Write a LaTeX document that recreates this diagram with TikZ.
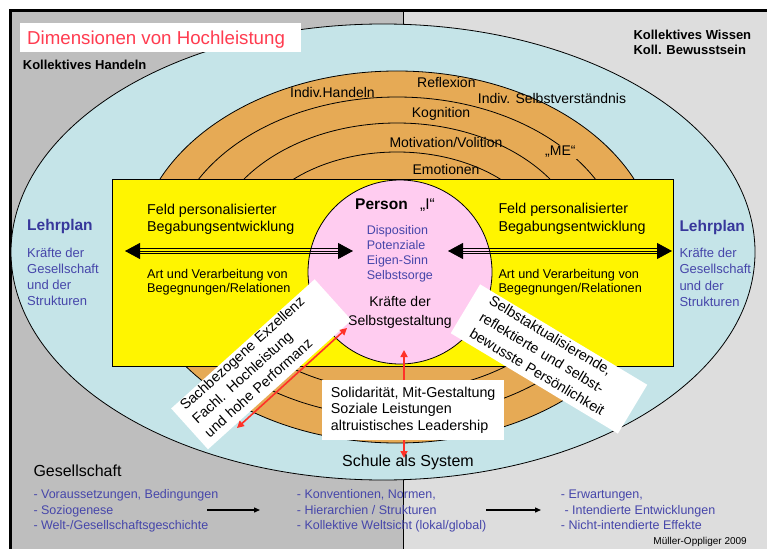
\documentclass[tikz,border=0pt]{standalone}
\usepackage{fontspec}
\setmainfont{Liberation Sans}
\usetikzlibrary{arrows.meta}

\definecolor{grayL}{RGB}{190,190,190}
\definecolor{grayR}{RGB}{221,221,221}
\definecolor{skyfill}{RGB}{197,228,232}
\definecolor{ochre}{RGB}{230,170,85}
\definecolor{fieldyellow}{RGB}{255,245,0}
\definecolor{personpink}{RGB}{255,204,240}
\definecolor{inkblue}{RGB}{70,70,170}
\definecolor{deepblue}{RGB}{55,55,155}
\definecolor{titlered}{RGB}{255,60,80}
\definecolor{arrowred}{RGB}{255,50,40}

\newcommand\setfs[2]{\fontsize{#1}{#2}\selectfont}

\begin{document}
\begin{tikzpicture}[x=1pt,y=-1pt,
  txt/.style={inner sep=0pt, anchor=base west},
  ctxt/.style={inner sep=0pt, anchor=base},
  blu/.style={txt, text=inkblue},
  ringline/.style={line width=0.8pt},
  shaft/.style={line width=0.8pt},
  bigtips/.style={shaft, {Triangle[length=15pt,width=16pt]}-{Triangle[length=15pt,width=16pt]}},
  redarrow/.style={draw=arrowred, line width=1.6pt,
    {Triangle[length=7pt,width=7pt]}-{Triangle[length=7pt,width=7pt]}},
  smallarrow/.style={line width=1.3pt, -{Triangle[length=6pt,width=5pt]}},
  ringlabel/.style={txt, font=\setfs{14}{16}},
  fieldhead/.style={txt, font=\setfs{14.3}{17}},
  fieldsub/.style={txt, font=\setfs{12.7}{15}},
  planhead/.style={txt, text=deepblue, font=\bfseries\setfs{15.5}{18}},
  plantext/.style={blu, font=\setfs{13}{16}},
  listtext/.style={blu, font=\setfs{12.5}{15}},
  rotbox/.style={fill=white, inner ysep=0pt, align=left, font=\setfs{14.3}{18.3}},
]
\useasboundingbox (0,0) rectangle (767,548);

% two background halves and the frame
\fill[grayL] (10.5,10.5) rectangle (403,560);
\fill[grayR] (403,10.5) rectangle (790,560);
\draw[line width=0.8pt] (403,10.5) -- (403,560);
\draw[line width=3pt] (790,10.5) -- (10.5,10.5) -- (10.5,560);

% school system ellipse
\filldraw[fill=skyfill, line width=0.8pt] (383,252) ellipse [x radius=372pt, y radius=228pt];

% individual rings
\filldraw[fill=ochre, line width=0.8pt] (397,257) ellipse [x radius=261pt, y radius=186pt];
\draw[ringline] (397,257) ellipse [x radius=227pt, y radius=160pt];
\draw[ringline] (397,257) ellipse [x radius=188pt, y radius=134pt];
\draw[ringline] (397,257) ellipse [x radius=154pt, y radius=105pt];

\node[ringlabel] (reflexion) at (417,87.3) {Reflexion};
\node[ringlabel] (handeln) at (290,97.5) {Indiv.Handeln};
\node[ringlabel] (selbstv) at (477.7,104) {Indiv. Selbstverständnis};
\node[ringlabel] (kognition) at (411.7,117.3) {Kognition};
\node[ringlabel] (motivation) at (389.3,147.3) {Motivation/Volition};
\node[ringlabel, fill=ochre, inner sep=1.5pt] (me) at (543.5,156) {„ME“};
\node[ringlabel] (emotionen) at (412.3,175) {Emotionen};

% field of personalised development
\node[draw, fill=fieldyellow, line width=0.8pt, minimum width=561pt, minimum height=187pt,
      inner sep=0pt] (field) at (392.5,272.5) {};
\node[circle, draw, fill=personpink, line width=0.8pt, minimum size=184pt, inner sep=0pt]
      (person) at (400,272) {};

\node[fieldhead] (feldL1) at (147,214) {Feld personalisierter};
\node[fieldhead] (feldL2) at (147,231.5) {Begabungsentwicklung};
\node[fieldsub] (artL1) at (147,278.3) {Art und Verarbeitung von};
\node[fieldsub] (artL2) at (147,292.7) {Begegnungen/Relationen};
\node[fieldhead] (feldR1) at (498.3,213.5) {Feld personalisierter};
\node[fieldhead] (feldR2) at (498.3,231) {Begabungsentwicklung};
\node[fieldsub] (artR1) at (498.3,278.3) {Art und Verarbeitung von};
\node[fieldsub] (artR2) at (498.3,292.7) {Begegnungen/Relationen};

% double arrows across the field
\coordinate (lfarL) at (125,251);
\coordinate (lfarR) at (353,251);
\coordinate (rtarL) at (448,251);
\coordinate (rtarR) at (672,251);
\foreach \s in {-2.3,2.3}{
  \draw[shaft, shorten <=12pt, shorten >=12pt] ([yshift=\s pt]lfarL) -- ([yshift=\s pt]lfarR);
  \draw[shaft, shorten <=12pt, shorten >=12pt] ([yshift=\s pt]rtarL) -- ([yshift=\s pt]rtarR);
}
\draw[bigtips] (lfarL) -- (lfarR);
\draw[bigtips] (rtarL) -- (rtarR);

% the person
\node[txt, font=\bfseries\setfs{15.5}{18}] (personhead) at (355,209.3) {Person};
\node[txt, font=\setfs{15.5}{18}] (ich) at (420,209.3) {„I“};
\node[blu, font=\setfs{12.5}{15}] (disp) at (366.7,234.3) {Disposition};
\node[blu, font=\setfs{12.5}{15}] (pot) at (366.7,249.2) {Potenziale};
\node[blu, font=\setfs{12.5}{15}] (eigen) at (366.7,264.2) {Eigen-Sinn};
\node[blu, font=\setfs{12.5}{15}] (sorge) at (366.7,279.3) {Selbstsorge};
\node[ctxt, font=\setfs{14}{17}] (kraefte1) at (400,306.7) {Kräfte der};
\node[ctxt, font=\setfs{14}{17}] (kraefte2) at (400,325) {Selbstgestaltung};

% curriculum on both sides
\node[planhead] (planL) at (27,230) {Lehrplan};
\node[plantext] (planL1) at (27,257.5) {Kräfte der};
\node[plantext] (planL2) at (27,273.5) {Gesellschaft};
\node[plantext] (planL3) at (27,289.5) {und der};
\node[plantext] (planL4) at (27,305.3) {Strukturen};
\node[planhead] (planR) at (679.3,231.5) {Lehrplan};
\node[plantext] (planR1) at (679.3,257.5) {Kräfte der};
\node[plantext] (planR2) at (679.3,273.5) {Gesellschaft};
\node[plantext] (planR3) at (679.3,290.5) {und der};
\node[plantext] (planR4) at (679.3,306.5) {Strukturen};

% social dimension below the person
\coordinate (solTop) at (404,350);
\coordinate (solBot) at (404,458);
\draw[redarrow] (solTop) -- (solBot);
\node[fill=white, anchor=north west, minimum width=182pt, minimum height=60pt,
      inner xsep=5.5pt, inner ysep=6pt, align=left, font=\setfs{14.3}{16.7}] (solbox)
      at (322,380) {Solidarität, Mit-Gestaltung\\Soziale Leistungen\\altruistisches Leadership};

% subject-related excellence
\node[rotbox, rotate=42, minimum width=193pt, minimum height=55pt, text width=175pt,
      inner xsep=9pt] (excel) at (261.3,364.3)
      {Sachbezogene Exzellenz\\Fachl. Hochleistung\\und hohe Performanz\rule[-6pt]{0pt}{6pt}};
\coordinate (exzA) at (237,428);
\coordinate (exzB) at (347,328);
\draw[redarrow] (exzA) -- (exzB);

% self-actualising personality
\node[rotbox, rotate=-31, minimum width=195pt, minimum height=57pt, text width=161pt,
      inner xsep=17pt, font=\setfs{14.3}{19}] (selfact) at (549,359)
      {Selbstaktualisierende,\\reflektierte und selbst-\\bewusste Persönlichkeit\rule[-4pt]{0pt}{4pt}};

\node[txt, font=\setfs{16}{19}] (schule) at (342,466.7) {Schule als System};

% heading and collective labels
\fill[white] (20,23) rectangle (301,52);
\node[txt, text=titlered, font=\setfs{18.7}{22}] (title) at (27,44.3) {Dimensionen von Hochleistung};
\node[txt, font=\bfseries\setfs{13}{15}] (kollH) at (22.7,70) {Kollektives Handeln};
\node[txt, font=\bfseries\setfs{13}{15}] (kollW) at (633.3,39.3) {Kollektives Wissen};
\node[txt, font=\bfseries\setfs{13}{15}] (kollB) at (633.3,55) {Koll. Bewusstsein};

% society
\node[txt, font=\setfs{16}{19}] (gesell) at (33.3,476.7) {Gesellschaft};
\node[listtext] (c1a) at (33.3,498.3) {- Voraussetzungen, Bedingungen};
\node[listtext] (c1b) at (33.3,514) {- Soziogenese};
\node[listtext] (c1c) at (33.3,529.5) {- Welt-/Gesellschaftsgeschichte};
\node[listtext] (c2a) at (296.7,498.3) {- Konventionen, Normen,};
\node[listtext] (c2b) at (296.7,514) {- Hierarchien / Strukturen};
\node[listtext] (c2c) at (296.7,529.5) {- Kollektive Weltsicht (lokal/global)};
\node[listtext] (c3a) at (560.7,498.3) {- Erwartungen,};
\node[listtext] (c3b) at (564.3,514) {- Intendierte Entwicklungen};
\node[listtext] (c3c) at (560.7,529.5) {- Nicht-intendierte Effekte};

\coordinate (g1) at (207,510);
\coordinate (g2) at (260,510);
\coordinate (g3) at (486,510);
\coordinate (g4) at (541,510);
\draw[smallarrow] (g1) -- (g2);
\draw[smallarrow] (g3) -- (g4);

\node[inner sep=0pt, anchor=base east, font=\setfs{10}{12}] (author) at (747,544) {Müller-Oppliger 2009};
\end{tikzpicture}
\end{document}
